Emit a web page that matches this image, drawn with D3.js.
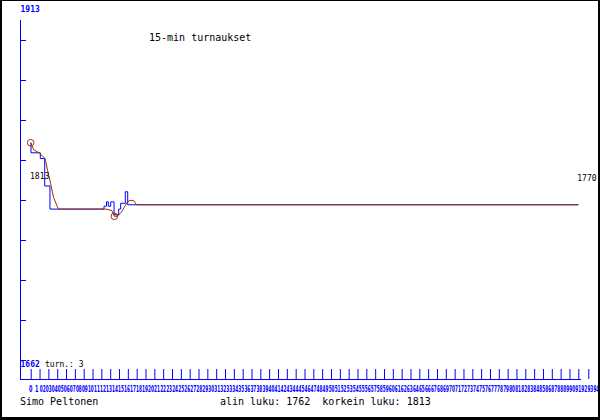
<!DOCTYPE html>
<meta charset="utf-8">
<body style="margin:0">
<style>
text { font-family: "DejaVu Sans Mono", monospace; }
.small { font-size: 8px; }
.big { font-size: 10px; }
</style>
<script src="https://d3js.org/d3.v7.min.js"></script>
<script>

// raw turnover, time in quarter hours
var rawTime  = [0, 0.05, 1.6, 2.33, 3.2, 12.18, 12.6, 12.9, 13.3, 13.85, 14.62, 14.95, 15.72, 16.12, 91];
var rawValue = [1813, 1806, 1802, 1783, 1767, 1769, 1772, 1769, 1772, 1763, 1767, 1771, 1779, 1770, 1770];

// 15-min line
var avgTime  = [0, 0.5, 1.4, 2.4, 2.8, 3.3, 3.8, 4.6, 12.5, 13.5, 13.9, 14.4, 15.1, 15.5, 16.1, 16.5, 17.1, 17.6, 91];
var avgValue = [1813, 1808, 1806, 1802, 1794, 1785, 1775, 1767, 1767, 1766, 1762, 1762, 1765, 1768, 1772, 1773, 1773, 1770, 1770];

var yTop = 1913, yBottom = 1662;
var xLabels = d3.range(0, 95);
var xTickIdx = d3.range(0, 63).concat([63.13]);
var yTickIdx = d3.range(1, 10);

var blue = "#0000ff", brown = "#993300";

var svg = d3.select("body").append("svg")
    .attr("width", 600)
    .attr("height", 420)
    .style("display", "block");

svg.append("rect").attr("width", 600).attr("height", 420).attr("fill", "#fff");

var x = d3.scaleLinear().domain([0, 91]).range([30.7, 578.3]);
var xt = d3.scaleLinear().domain([0, 62]).range([30.7, 578.3]);
var y = d3.scaleLinear().domain([yBottom, yTop]).range([360.6, -1.6]);
var yg = d3.scaleLinear().domain([1, 9]).range([360, 40]);

// axes
var gy = svg.append("g").attr("transform", "translate(20,0)")
    .call(d3.axisRight(yg).tickValues(yTickIdx).tickSize(6).tickFormat(""));
var gx = svg.append("g").attr("transform", "translate(0,379)")
    .call(d3.axisTop(xt).tickValues(xTickIdx).tickSize(10).tickFormat(""));
svg.selectAll(".domain").remove();
svg.selectAll(".tick line").attr("stroke", blue);

svg.append("line").attr("x1", 20.5).attr("x2", 20.5).attr("y1", 20).attr("y2", 380)
    .attr("stroke", blue);
svg.append("line").attr("x1", 20).attr("x2", 581).attr("y1", 379.5).attr("y2", 379.5)
    .attr("stroke", blue);

svg.append("g").selectAll("text")
    .data(xLabels)
  .enter().append("text")
    .attr("x", function(d) { return x(d); })
    .attr("y", 392)
    .attr("text-anchor", "middle")
    .attr("fill", blue)
    .attr("font-weight", "bold")
    .style("font-family", "'DejaVu Sans Condensed', sans-serif")
    .style("font-size", "8px")
    .attr("textLength", function(d) { return d < 2 ? 3.4 : 5.9; })
    .attr("lengthAdjust", "spacingAndGlyphs")
    .text(function(d) { return d < 2 ? String(d) : d3.format("02d")(d); });

svg.append("text").attr("class", "small").attr("x", 20.5).attr("y", 12)
    .attr("fill", blue).attr("font-weight", "bold").text(yTop);
svg.append("text").attr("class", "small").attr("x", 20.5).attr("y", 367)
    .attr("fill", blue).attr("font-weight", "bold").text(yBottom);
svg.append("text").attr("class", "small").attr("x", 45).attr("y", 367)
    .text("turn.: 3");

// lines
var raw = rawTime.map(function(t, i) { return [t, rawValue[i]]; });
var avg = avgTime.map(function(t, i) { return [t, avgValue[i]]; });

svg.append("path")
    .datum(raw)
    .attr("fill", "none")
    .attr("stroke", blue)
    .attr("d", d3.line().x(function(d) { return x(d[0]); }).y(function(d) { return y(d[1]); })
        .curve(d3.curveStepAfter));

svg.append("path")
    .datum(avg)
    .attr("fill", "none")
    .attr("stroke", brown)
    .attr("d", d3.line().x(function(d) { return x(d[0]); }).y(function(d) { return y(d[1]); }));

var hi = avg[d3.maxIndex(avgValue)], lo = avg[d3.minIndex(avgValue)];
svg.selectAll(".mark")
    .data([hi, lo])
  .enter().append("circle")
    .attr("cx", function(d) { return x(d[0]); })
    .attr("cy", function(d) { return y(d[1]); })
    .attr("r", 3.3)
    .attr("fill", "none")
    .attr("stroke", brown);

var first = avg[0], last = avg[avg.length - 1];
svg.append("text").attr("class", "small")
    .attr("x", x(first[0]) - 0.7).attr("y", y(first[1]) + 36).text(first[1]);
svg.append("text").attr("class", "small")
    .attr("x", x(last[0]) - 1).attr("y", y(last[1]) - 24).text(last[1]);

// texts
svg.append("text").attr("class", "big").attr("x", 149).attr("y", 41).text("15-min turnaukset");
svg.append("text").attr("class", "big").attr("x", 20).attr("y", 405).text("Simo Peltonen");
svg.append("text").attr("class", "big").attr("x", 220).attr("y", 405)
    .attr("xml:space", "preserve").style("white-space", "pre")
    .text("alin luku: " + lo[1] + "  korkein luku: " + hi[1]);

// frame
svg.append("rect").attr("x", 0).attr("y", 0).attr("width", 2).attr("height", 420).attr("fill", "#000");
svg.append("rect").attr("x", 598).attr("y", 0).attr("width", 2).attr("height", 420).attr("fill", "#000");
svg.append("rect").attr("x", 0).attr("y", 0).attr("width", 600).attr("height", 1).attr("fill", "#000");
svg.append("rect").attr("x", 0).attr("y", 417).attr("width", 600).attr("height", 3).attr("fill", "#000");

</script>
</body>
</html>
